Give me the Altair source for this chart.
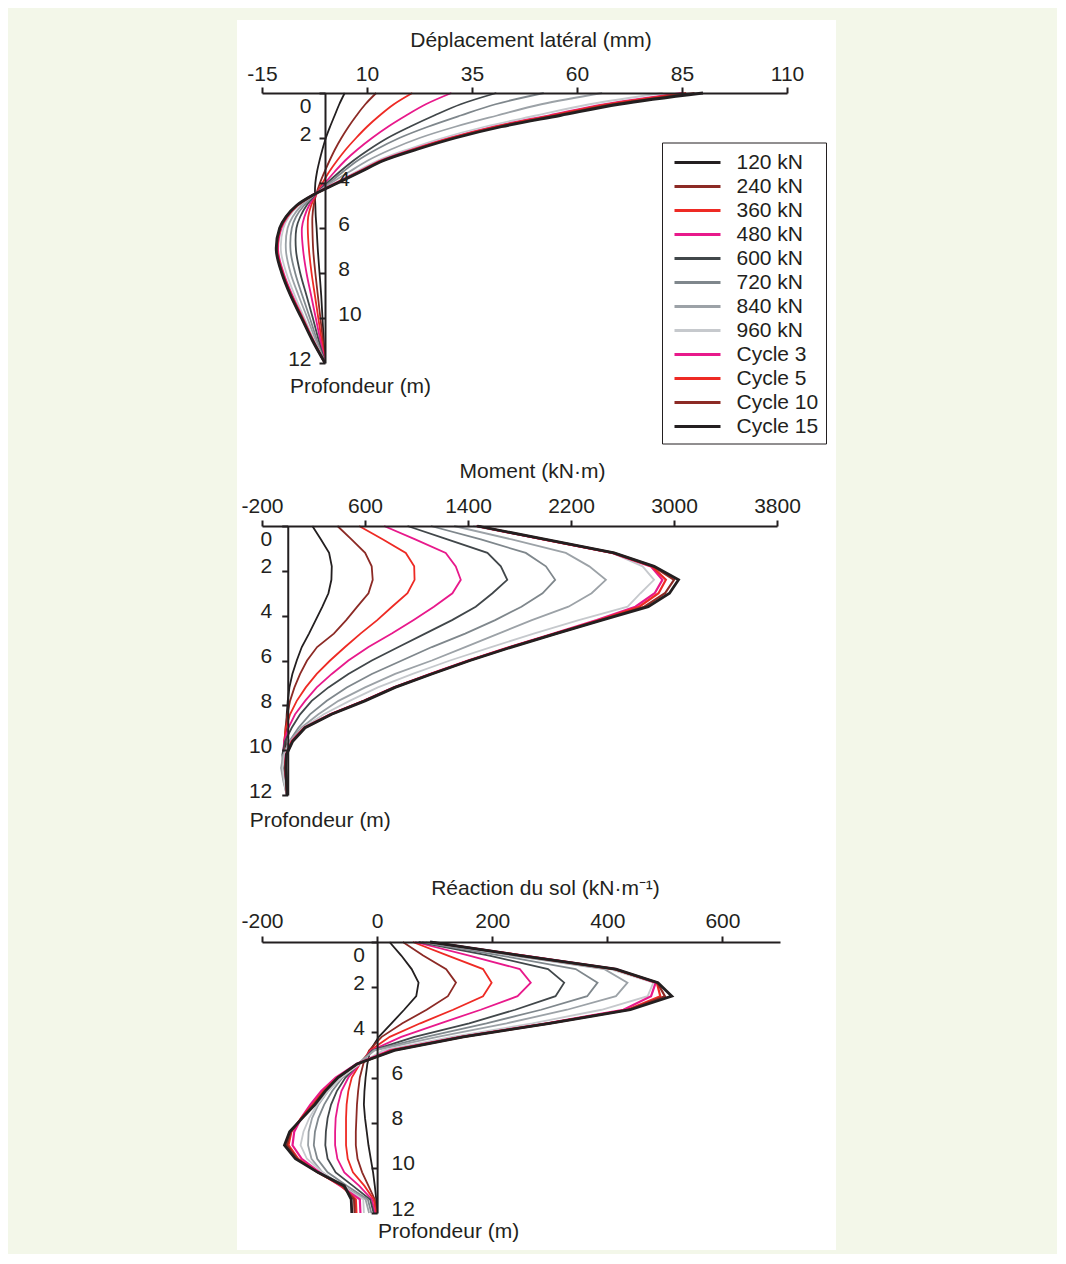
import altair as alt
import pandas as pd

# ---------------- series, colours, ticks ----------------
SERIES = ["120 kN", "240 kN", "360 kN", "480 kN", "600 kN", "720 kN",
          "840 kN", "960 kN", "Cycle 3", "Cycle 5", "Cycle 10", "Cycle 15"]
COLORS = ["#231f20", "#8c2a25", "#ee2a24", "#e8198b", "#41474a", "#7f878c",
          "#9ca2a7", "#c6c9cd", "#e8198b", "#ee2a24", "#8c2a25", "#231f20"]
LOAD_SERIES = SERIES[:8]
CYCLE_SERIES = SERIES[8:11]
LAST_CYCLE = SERIES[11]

DISP_TICKS = [-15, 10, 35, 60, 85, 110]
MOMENT_TICKS = [-200, 600, 1400, 2200, 3000, 3800]
REACTION_TICKS = [-200, 0, 200, 400, 600]
DEPTH_TICKS = [0, 2, 4, 6, 8, 10, 12]

# ---------------- lateral displacement (mm) ----------------
DEPTH_DISP = [0, 0.5, 1, 1.5, 2, 2.5, 3, 3.5, 4, 4.5, 5, 5.5, 6, 7, 8, 9, 10, 11, 12]
disp_120kN = [4.7, 3.4, 2.3, 1.2, 0.2, -0.6, -1.3, -1.9, -2.3, -2.4, -2.3, -2.2, -2.0, -1.7, -1.3, -0.9, -0.6, -0.3, 0.0]
disp_240kN = [12.2, 9.6, 7.5, 5.6, 3.9, 2.4, 1.1, -0.1, -1.2, -2.1, -2.7, -3.0, -3.0, -2.8, -2.3, -1.7, -1.1, -0.5, 0.0]
disp_360kN = [20.8, 16.4, 13.0, 10.0, 7.4, 5.0, 2.9, 1.0, -0.6, -2.1, -3.3, -4.0, -4.1, -3.8, -3.2, -2.4, -1.6, -0.8, 0.0]
disp_480kN = [30.1, 24.0, 19.3, 15.0, 11.2, 7.8, 4.8, 2.3, 0.0, -2.1, -3.8, -4.9, -5.5, -5.2, -4.4, -3.3, -2.2, -1.1, 0.0]
disp_600kN = [40.8, 32.3, 26.0, 20.2, 14.9, 10.6, 6.8, 3.5, 0.5, -2.2, -4.4, -5.9, -6.8, -6.9, -5.9, -4.4, -2.9, -1.5, 0.0]
disp_720kN = [52.1, 40.6, 32.3, 24.5, 17.7, 12.3, 7.8, 4.3, 1.0, -2.3, -5.0, -6.9, -7.9, -8.2, -7.1, -5.4, -3.6, -1.9, 0.0]
disp_840kN = [66.0, 51.5, 41.0, 31.0, 22.5, 15.8, 10.2, 5.8, 1.5, -2.4, -5.6, -7.7, -8.9, -9.3, -8.2, -6.3, -4.2, -2.2, 0.0]
disp_960kN = [80.4, 63.0, 50.3, 38.0, 28.0, 19.8, 12.6, 7.4, 2.4, -2.5, -6.3, -8.6, -9.9, -10.5, -9.2, -7.2, -4.9, -2.6, 0.0]
disp_cycle3 = [85.0, 66.6, 53.4, 40.2, 29.7, 21.0, 13.4, 8.0, 2.6, -2.6, -6.6, -9.0, -10.4, -11.2, -9.9, -7.8, -5.3, -2.8, 0.0]
disp_cycle5 = [86.0, 67.3, 54.0, 40.6, 30.0, 21.3, 13.6, 8.2, 2.8, -2.5, -6.6, -9.1, -10.6, -11.4, -10.1, -8.0, -5.4, -2.9, 0.0]
disp_cycle10 = [88.0, 68.6, 55.0, 41.3, 30.5, 21.6, 13.8, 8.3, 2.9, -2.5, -6.7, -9.2, -10.7, -11.5, -10.2, -8.1, -5.5, -2.9, 0.0]
disp_cycle15 = [90.0, 70.0, 56.0, 42.0, 31.0, 22.0, 14.0, 8.5, 3.0, -2.5, -6.8, -9.3, -10.8, -11.6, -10.3, -8.2, -5.6, -3.0, 0.0]

# ---------------- bending moment (kN.m) ----------------
DEPTH_NODES = [0, 0.6, 1.2, 1.8, 2.4, 3.0, 3.6, 4.2, 4.8, 5.4, 6.0, 6.6, 7.2, 7.8, 8.4, 9.0, 9.6, 10.2, 10.8, 11.4, 12]
moment_120kN = [191, 258, 321, 342, 339, 316, 269, 217, 165, 109, 70, 36, 13, 0, -8, -12, -15, -15, -12, -8, -5]
moment_240kN = [386, 495, 601, 652, 660, 627, 540, 454, 358, 228, 150, 96, 52, 18, -3, -18, -25, -25, -18, -10, -5]
moment_360kN = [554, 740, 917, 982, 985, 930, 810, 695, 565, 445, 329, 225, 140, 70, 18, -14, -28, -30, -21, -12, -5]
moment_480kN = [748, 990, 1227, 1305, 1344, 1279, 1135, 975, 808, 627, 471, 342, 225, 135, 57, 5, -28, -38, -29, -16, -6]
moment_600kN = [930, 1240, 1551, 1655, 1705, 1590, 1460, 1276, 1067, 860, 653, 471, 316, 186, 96, 31, -21, -42, -34, -20, -7]
moment_720kN = [1111, 1500, 1849, 2005, 2077, 1979, 1815, 1611, 1378, 1119, 886, 653, 458, 303, 173, 83, 13, -34, -47, -29, -8]
moment_840kN = [1292, 1740, 2160, 2342, 2471, 2360, 2180, 1896, 1637, 1378, 1119, 834, 601, 394, 238, 105, 15, -35, -52, -34, -8]
moment_960kN = [1440, 1990, 2520, 2756, 2845, 2740, 2640, 2260, 1910, 1580, 1260, 970, 700, 480, 280, 120, 25, -25, -40, -28, -8]
moment_cycle3 = [1465, 1985, 2520, 2820, 2910, 2850, 2700, 2400, 2065, 1722, 1400, 1104, 820, 590, 330, 127, 30, -15, -20, -12, -5]
moment_cycle5 = [1468, 1990, 2525, 2830, 2937, 2880, 2730, 2420, 2075, 1730, 1408, 1110, 826, 594, 335, 130, 33, -13, -18, -12, -5]
moment_cycle10 = [1470, 1995, 2530, 2838, 3000, 2930, 2770, 2430, 2080, 1735, 1412, 1115, 830, 597, 338, 132, 36, -12, -17, -11, -5]
moment_cycle15 = [1473, 2004, 2535, 2846, 3035, 2965, 2800, 2440, 2085, 1740, 1416, 1119, 834, 600, 341, 135, 39, -10, -15, -10, -5]

# ---------------- soil reaction (kN/m) ----------------
reaction_120kN = [21.5, 42, 60, 72, 68, 47, 25, 3, -12, -17, -20, -22, -23, -21, -18, -15, -11, -7, -4, -1.5, -0.5]
reaction_240kN = [44.7, 80, 120, 137, 123, 86, 44, 8, -14, -24, -30, -33, -35, -36, -37, -37, -34, -26, -15, -4, -1.5]
reaction_360kN = [62, 123, 184, 199, 184, 132, 75, 22, -12, -30, -44, -50, -53, -54, -54, -54, -51, -42, -22, -6, -2]
reaction_480kN = [66, 160, 248, 267, 244, 180, 110, 42, -10, -30, -50, -62, -68, -72, -73, -73, -69, -57, -31, -9, -4]
reaction_600kN = [72, 195, 297, 325, 310, 240, 160, 65, -8, -32, -55, -70, -80, -86, -89, -90, -86, -72, -42, -12, -6]
reaction_720kN = [78, 215, 345, 383, 365, 285, 190, 85, -6, -33, -60, -78, -92, -102, -108, -110, -104, -86, -52, -16, -10]
reaction_840kN = [84, 235, 395, 435, 415, 330, 225, 105, -4, -34, -63, -85, -102, -113, -119, -120, -114, -95, -60, -20, -14]
reaction_960kN = [88, 245, 405, 480, 470, 390, 270, 130, 10, -30, -62, -85, -104, -118, -128, -133, -122, -95, -62, -24, -23]
reaction_cycle3 = [92, 255, 415, 484, 476, 428, 295, 145, 22, -36, -72, -97, -116, -132, -144, -147, -131, -100, -64, -30, -29]
reaction_cycle5 = [92, 252, 413, 486, 492, 435, 298, 148, 26, -34, -69, -93, -112, -132, -149, -154, -137, -103, -62, -37, -36]
reaction_cycle10 = [92, 251, 413, 487, 500, 437, 299, 149, 28, -34, -68, -91, -110, -131, -150, -157, -139, -103, -60, -40, -39]
reaction_cycle15 = [92, 250, 415, 488, 512, 440, 300, 150, 30, -35, -68, -90, -108, -130, -152, -161, -142, -103, -57, -45, -44]


def long_table(depths, columns):
    rows = []
    for name, vals in zip(SERIES, columns):
        for d, v in zip(depths, vals):
            rows.append({"series": name, "depth": d, "value": v})
    return pd.DataFrame(rows)


df_disp = long_table(DEPTH_DISP, [disp_120kN, disp_240kN, disp_360kN, disp_480kN, disp_600kN, disp_720kN,
                                  disp_840kN, disp_960kN, disp_cycle3, disp_cycle5, disp_cycle10, disp_cycle15])
df_moment = long_table(DEPTH_NODES, [moment_120kN, moment_240kN, moment_360kN, moment_480kN, moment_600kN,
                                     moment_720kN, moment_840kN, moment_960kN, moment_cycle3, moment_cycle5,
                                     moment_cycle10, moment_cycle15])
df_reaction = long_table(DEPTH_NODES, [reaction_120kN, reaction_240kN, reaction_360kN, reaction_480kN,
                                       reaction_600kN, reaction_720kN, reaction_840kN, reaction_960kN,
                                       reaction_cycle3, reaction_cycle5, reaction_cycle10, reaction_cycle15])

INK = "#231f20"
FS = 21
FONT = "Liberation Sans"
PANEL_LEFT = -25     # white panel edge, relative to plot origin
PANEL_RIGHT = 574


def axis_style():
    return dict(domainColor=INK, domainWidth=2, tickColor=INK, tickWidth=2, tickSize=6,
                labelColor=INK, labelFontSize=FS, labelFont=FONT,
                titleColor=INK, titleFontSize=FS, titleFontWeight="normal", titleFont=FONT,
                grid=False, zindex=1, labelOverlap=False, labelFlush=False)


def panel(df, xdom, xticks, xtitle, width, height, xtitle_xy, xlab_pad, ytitle_xy,
          right_test, left_pad, right_pad, rect_y, interp, legend):
    zero_px = (0 - xdom[0]) / (xdom[1] - xdom[0]) * width
    if right_test:
        lab_align = {"condition": {"test": right_test, "value": "left"}, "value": "right"}
        lab_pad = {"condition": {"test": right_test, "value": right_pad}, "value": left_pad}
    else:
        lab_align = "right"
        lab_pad = left_pad
    y_axis = alt.Axis(orient="left", offset=-zero_px, values=DEPTH_TICKS,
                      labelExpr="'' + datum.value", labelAlign=lab_align, labelPadding=lab_pad,
                      labelBaseline="middle",
                      labelOffset={"condition": {"test": "datum.value == 0", "value": 13}, "value": -4},
                      title="Profondeur (m)", titleAngle=0, titleAlign="center", titleBaseline="middle",
                      titleX=ytitle_xy[0], titleY=ytitle_xy[1], **axis_style())
    x_axis = alt.Axis(orient="top", values=xticks, labelExpr="'' + datum.value",
                      labelBaseline="alphabetic", labelPadding=xlab_pad, labelAngle=0,
                      title=xtitle, titleAlign="center", titleBaseline="middle", titleAngle=0,
                      titleX=xtitle_xy[0], titleY=xtitle_xy[1], **axis_style())

    bg = alt.Chart(alt.Data(values=[{"panel": 1}])).mark_rect(fill="white", strokeWidth=0).encode(
        x=alt.value(PANEL_LEFT), x2=alt.value(PANEL_RIGHT),
        y=alt.value(rect_y[0]), y2=alt.value(rect_y[1]))

    base = alt.Chart(df).encode(
        x=alt.X("value:Q", scale=alt.Scale(domain=xdom, nice=False, zero=False), axis=x_axis),
        y=alt.Y("depth:Q", scale=alt.Scale(domain=[0, 12], reverse=True, nice=False, zero=False),
                axis=y_axis),
        color=alt.Color("series:N", scale=alt.Scale(domain=SERIES, range=COLORS), legend=legend),
        order=alt.Order("depth:Q"),
    )
    loads = base.transform_filter(
        alt.FieldOneOfPredicate(field="series", oneOf=LOAD_SERIES)
    ).mark_line(strokeWidth=1.8, interpolate=interp)
    cycles = base.transform_filter(
        alt.FieldOneOfPredicate(field="series", oneOf=CYCLE_SERIES)
    ).mark_line(strokeWidth=2.2, interpolate=interp)
    last = base.transform_filter(
        alt.FieldEqualPredicate(field="series", equal=LAST_CYCLE)
    ).mark_line(strokeWidth=2.8, interpolate=interp)
    return alt.layer(bg, loads, cycles, last).properties(width=width, height=height)


# legend: 46 px long line symbols on 24 px rows (custom path twice as wide as the symbol box)
legend1 = alt.Legend(title=None, orient="none", legendX=400, legendY=49.5,
                     symbolType="M-2,0L2,0", symbolSize=529, symbolStrokeWidth=3,
                     symbolOffset=15.5, symbolFillColor="transparent",
                     labelFontSize=FS, labelFont=FONT, labelColor=INK, labelOffset=26,
                     rowPadding=1, padding=7, fillColor="white", strokeColor=INK, zindex=2)

p1 = panel(df_disp, [-15, 110], DISP_TICKS, "Déplacement latéral (mm)", 525, 270,
           (268.5, -53), 7, (35, 293), "datum.value >= 4 && datum.value <= 10", 8, -18.7,
           (-73, 352), "catmull-rom", legend1)
p2 = panel(df_moment, [-200, 3800], MOMENT_TICKS, "Moment (kN·m)", 515, 269,
           (270, -55), 7.5, (32, 294), None, 10, 0,
           (-81, 334), "linear", None)
p3 = panel(df_reaction, [-200, 700], REACTION_TICKS, "Réaction du sol (kN·m⁻¹)", 518, 271,
           (283, -54), 9, (71, 289), "datum.value >= 6", 6.7, -20,
           (-82, 308), "linear", None)

chart = alt.vconcat(p1, p2, p3, spacing=0).resolve_scale(color="independent").properties(
    padding={"left": 229, "top": 12, "right": 221, "bottom": 4},
    background="#f3f7e9",
).configure(font=FONT, view=alt.ViewConfig(stroke=None))

chart.save("out.html", embed_options={"renderer": "svg", "actions": False})
